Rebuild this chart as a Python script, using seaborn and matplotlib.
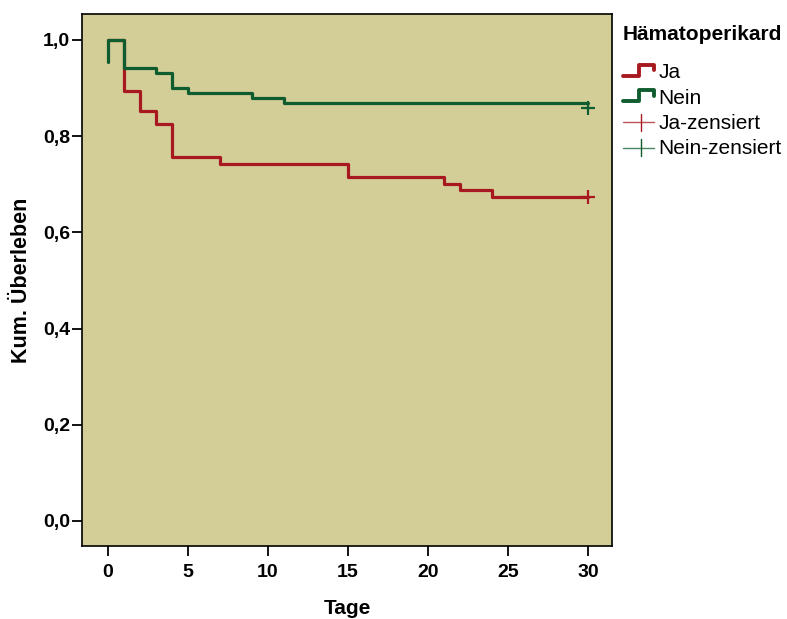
import numpy as np
import pandas as pd
import matplotlib
matplotlib.use("Agg")
import matplotlib.pyplot as plt
import seaborn as sns
from matplotlib.lines import Line2D
from matplotlib.legend_handler import HandlerBase

# data
ja_t = [0, 1, 2, 3, 4, 7, 15, 21, 22, 24, 30]
ja_s = [1.0, 0.894, 0.853, 0.825, 0.757, 0.742, 0.715, 0.701, 0.688, 0.674, 0.674]
nein_t = [0, 0, 1, 3, 4, 5, 9, 11, 30]
nein_s = [0.954, 1.0, 0.941, 0.932, 0.900, 0.890, 0.879, 0.869, 0.869]
cens_group = ["Ja", "Nein"]
cens_t = [30, 30]
cens_s = [0.674, 0.859]
x_ticks = [0, 5, 10, 15, 20, 25, 30]
y_ticks = [0.0, 0.2, 0.4, 0.6, 0.8, 1.0]

RED = "#A8191F"
GREEN = "#0F5C2E"
BG = "#D3CE98"

sns.set_style("ticks")
plt.rcParams["font.family"] = ["Liberation Sans", "DejaVu Sans"]
for k in ["text.color", "axes.labelcolor", "xtick.color", "ytick.color", "axes.edgecolor"]:
    plt.rcParams[k] = "black"

df = pd.concat([
    pd.DataFrame({"t": ja_t, "s": ja_s, "g": "Ja"}),
    pd.DataFrame({"t": nein_t, "s": nein_s, "g": "Nein"}),
], ignore_index=True)

fig = plt.figure(figsize=(7.87, 6.19), dpi=100)
ax = fig.add_axes([82/787, 1-546/619, (612-82)/787, (546-14)/619])
ax.set_facecolor(BG)

sns.lineplot(data=df, x="t", y="s", hue="g", palette={"Ja": RED, "Nein": GREEN},
             drawstyle="steps-post", estimator=None, sort=False, linewidth=2.3,
             legend=False, ax=ax)
cdf = pd.DataFrame({"t": cens_t, "s": cens_s, "g": cens_group})
sns.scatterplot(data=cdf, x="t", y="s", hue="g", palette={"Ja": RED, "Nein": GREEN},
                marker="+", s=110, linewidth=1.6, legend=False, ax=ax, zorder=5)

ax.set_xlim(-1.625, 31.5)
ax.set_ylim(-0.052, 1.054)
ax.set_xticks(x_ticks)
ax.set_yticks(y_ticks)
ax.set_xticklabels([str(v) for v in x_ticks], fontsize=14, fontweight="bold")
ax.set_yticklabels([f"{v:.1f}".replace(".", ",") for v in y_ticks], fontsize=14, fontweight="bold")
ax.tick_params(axis="x", direction="out", length=7.5, width=1.3, color="black", pad=5.5)
ax.tick_params(axis="y", direction="out", length=7.5, width=1.3, color="black", pad=1)
for sp in ax.spines.values():
    sp.set_visible(True)
    sp.set_color("black")
    sp.set_linewidth(1.2)
ax.set_xlabel("Tage", fontsize=15, fontweight="bold", labelpad=13)
ax.set_ylabel("Kum. Überleben", fontsize=15.5, fontweight="bold", labelpad=8)


class StepHandler(HandlerBase):
    def create_artists(self, legend, orig_handle, xdescent, ydescent, width, height, fontsize, trans):
        x0 = -xdescent
        y0 = -ydescent
        xs = [x0, x0 + width * 0.5, x0 + width * 0.5, x0 + width * 0.95, x0 + width * 0.95]
        ys = [y0 + height * 0.2, y0 + height * 0.2, y0 + height * 0.95, y0 + height * 0.95, y0 + height * 0.55]
        ln = Line2D(xs, ys, color=orig_handle.get_color(), linewidth=2.8, transform=trans)
        return [ln]


class CrossHandler(HandlerBase):
    def create_artists(self, legend, orig_handle, xdescent, ydescent, width, height, fontsize, trans):
        x0 = -xdescent
        y0 = -ydescent
        c = orig_handle.get_color()
        h = Line2D([x0, x0 + width * 0.95], [y0 + height * 0.45] * 2, color=c, linewidth=1.0,
                   alpha=0.75, transform=trans)
        v = Line2D([x0 + width * 0.55] * 2, [y0 - height * 0.15, y0 + height * 1.05], color=c,
                   linewidth=1.0, transform=trans)
        return [h, v]


h_ja = Line2D([], [], color=RED)
h_nein = Line2D([], [], color=GREEN)
h_jc = Line2D([], [], color=RED)
h_nc = Line2D([], [], color=GREEN)
leg = fig.legend([h_ja, h_nein, h_jc, h_nc], ["Ja", "Nein", "Ja-zensiert", "Nein-zensiert"],
                 handler_map={h_ja: StepHandler(), h_nein: StepHandler(),
                              h_jc: CrossHandler(), h_nc: CrossHandler()},
                 loc="upper left", bbox_to_anchor=(623/787, 1-25/619), frameon=False,
                 title="Hämatoperikard", prop={"family": ["Liberation Sans", "DejaVu Sans"], "size": 15},
                 handlelength=1.55, handletextpad=0.15, labelspacing=0.3, borderaxespad=0,
                 borderpad=0, alignment="left")
leg.get_title().set_fontweight("bold")
leg.get_title().set_fontsize(15)
leg.get_title().set_family(["Liberation Sans", "DejaVu Sans"])
leg._legend_box.sep = 14

fig.savefig("out.png", dpi=100, facecolor="white")
